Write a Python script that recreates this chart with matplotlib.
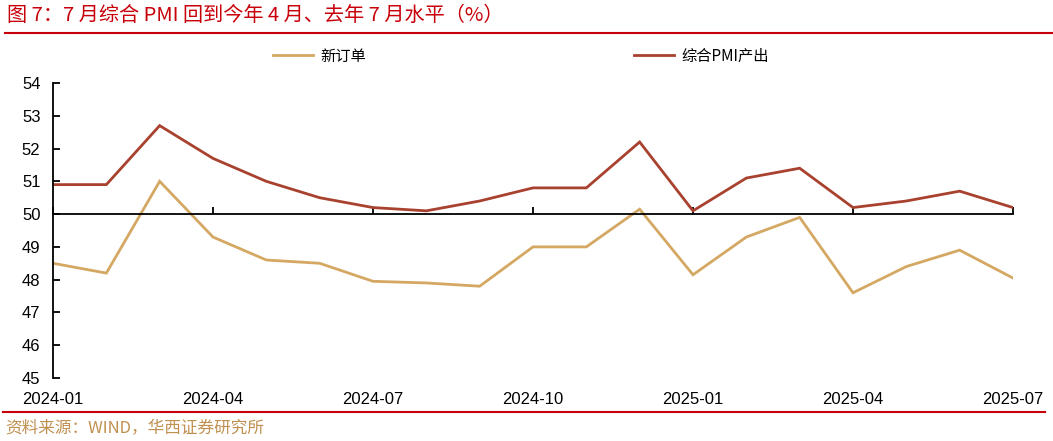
import matplotlib
matplotlib.use("Agg")
import matplotlib.pyplot as plt
from matplotlib.lines import Line2D

plt.rcParams['font.family'] = ['Liberation Sans', 'Noto Sans CJK SC', 'DejaVu Sans']

months = ["2024-01", "2024-02", "2024-03", "2024-04", "2024-05", "2024-06", "2024-07",
          "2024-08", "2024-09", "2024-10", "2024-11", "2024-12", "2025-01", "2025-02",
          "2025-03", "2025-04", "2025-05", "2025-06", "2025-07"]
new_orders = [48.5, 48.2, 51.0, 49.3, 48.6, 48.5, 47.95, 47.9, 47.8, 49.0, 49.0, 50.15,
              48.15, 49.3, 49.9, 47.6, 48.4, 48.9, 48.05]
output_pmi = [50.9, 50.9, 52.7, 51.7, 51.0, 50.5, 50.2, 50.1, 50.4, 50.8, 50.8, 52.2,
              50.1, 51.1, 51.4, 50.2, 50.4, 50.7, 50.2]
tick_labels = ["2024-01", "2024-04", "2024-07", "2024-10", "2025-01", "2025-04", "2025-07"]
series_names = ["新订单", "综合PMI产出"]

gold = "#D4A862"
red = "#A9412F"

fig = plt.figure(figsize=(10.53, 4.41), dpi=100)
ax = fig.add_axes([53/1053, 1 - 378/441, (1013-53)/1053, (378-83)/441])

x = list(range(len(months)))
ax.plot(x, new_orders, color=gold, lw=2.0, label=series_names[0], solid_joinstyle='miter')
ax.plot(x, output_pmi, color=red, lw=2.0, label=series_names[1], solid_joinstyle='miter')

ax.set_xlim(0, len(months) - 1)
ax.set_ylim(45, 54)
ax.set_yticks(range(45, 55))

tick_pos = [months.index(t) for t in tick_labels]
ax.set_xticks(tick_pos)
ax.set_xticklabels(tick_labels, fontsize=12, family=['Liberation Sans Narrow', 'Liberation Sans', 'DejaVu Sans'])

ax.spines['top'].set_visible(False)
ax.spines['right'].set_visible(False)
ax.spines['bottom'].set_position(('data', 50))
ax.spines['bottom'].set_linewidth(1.3)
ax.spines['left'].set_linewidth(1.3)

ax.tick_params(axis='x', direction='in', length=5, width=1.3, pad=128, labelsize=12)
ax.tick_params(axis='y', direction='in', length=5, width=1.3, pad=9, labelsize=12)

leg = fig.legend(loc='center', bbox_to_anchor=(521/1053, 1 - 56/441), ncol=2, frameon=False,
                 handlelength=2.6, columnspacing=17.5, handletextpad=0.5,
                 prop={'family': ['Noto Sans CJK SC', 'DejaVu Sans'], 'size': 11})

fig.text(7/1053, 1 - 15/441, "图 7：7 月综合 PMI 回到今年 4 月、去年 7 月水平（%）",
         color="#C8000A", fontsize=14.5, va='center', ha='left',
         family=['Noto Sans CJK SC', 'DejaVu Sans'])
fig.add_artist(Line2D([5/1053, 1], [1 - 33/441, 1 - 33/441], color="#C8000A", lw=1.5,
                      transform=fig.transFigure))
fig.add_artist(Line2D([3/1053, 1045/1053], [1 - 412/441, 1 - 412/441], color="#C8000A", lw=1.5,
                      transform=fig.transFigure))
fig.text(5/1053, 1 - 428/441, "资料来源：WIND，华西证券研究所", color="#C09050", fontsize=12,
         va='center', ha='left', family=['Noto Sans CJK SC', 'DejaVu Sans'])

fig.savefig("out.png", dpi=100)
